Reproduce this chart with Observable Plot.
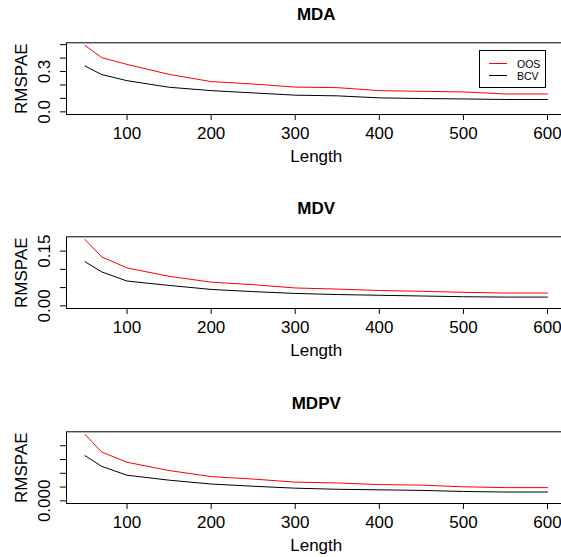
<!DOCTYPE html>
<html>
<head>
<meta charset="utf-8">
<script src="https://cdn.jsdelivr.net/npm/d3@7"></script>
<script src="https://cdn.jsdelivr.net/npm/@observablehq/plot@0.6"></script>
<style>
  html, body { margin: 0; padding: 0; background: #fff; overflow: hidden; }
  #root { position: relative; width: 561px; height: 557px; overflow: hidden; font-family: "Liberation Sans", Arial, Helvetica, sans-serif; }
  .panel { position: absolute; left: 0; width: 600px; }
  .panel svg { max-width: none !important; width: 600px !important; height: 175px !important; }
  .legend { position: absolute; border: 1px solid #000; background: #fff; font-size: 10.5px; color: #000; box-sizing: border-box; }
  .legend .sw { position: absolute; height: 0; border-top: 1px solid; width: 18px; }
  .legend .lb { position: absolute; line-height: 12px; }
</style>
</head>
<body>
<div id="root"></div>
<script>
// ---- data ----
const lengths = [50, 70, 100, 150, 200, 250, 300, 350, 400, 450, 500, 550, 600];
const xTicks = [100, 200, 300, 400, 500, 600];
const seriesNames = ["OOS", "BCV"];
const panelTitles = ["MDA", "MDV", "MDPV"];

const mdaOOS  = [0.494, 0.403, 0.353, 0.279, 0.225, 0.207, 0.184, 0.180, 0.158, 0.153, 0.148, 0.133, 0.133];
const mdaBCV  = [0.341, 0.277, 0.232, 0.183, 0.158, 0.141, 0.124, 0.119, 0.104, 0.099, 0.096, 0.092, 0.092];
const mdvOOS  = [0.182, 0.134, 0.104, 0.081, 0.065, 0.058, 0.049, 0.046, 0.042, 0.040, 0.037, 0.035, 0.035];
const mdvBCV  = [0.121, 0.093, 0.068, 0.056, 0.045, 0.039, 0.034, 0.031, 0.029, 0.027, 0.025, 0.024, 0.024];
const mdpvOOS = [0.0241, 0.0177, 0.0140, 0.0110, 0.0088, 0.0079, 0.0068, 0.0065, 0.0059, 0.0057, 0.0051, 0.0048, 0.0048];
const mdpvBCV = [0.0164, 0.0125, 0.0093, 0.0075, 0.0061, 0.0053, 0.0046, 0.0042, 0.0040, 0.0038, 0.0034, 0.0032, 0.0032];

const yTicksMDA  = [0, 0.1, 0.2, 0.3, 0.4, 0.5];
const yLabelsMDA = [0, 0.3];
const yTicksMDV  = [0, 0.05, 0.10, 0.15];
const yLabelsMDV = [0, 0.15];
const yTicksMDPV  = [0, 0.005, 0.010, 0.015, 0.020];
const yLabelsMDPV = [0];

const xLabel = "Length";
const yLabel = "RMSPAE";

// ---- drawing ----
const FONT = "Liberation Sans, Arial, Helvetica, sans-serif";
const root = document.getElementById("root");

function rpad(lo, hi) { const r = hi - lo; return [lo - 0.04 * r, hi + 0.04 * r]; }

function panel(title, oos, bcv, yTicks, yLabels, digits, top) {
  const oosRows = lengths.map((x, i) => ({x, v: oos[i]}));
  const bcvRows = lengths.map((x, i) => ({x, v: bcv[i]}));
  const ymax = d3.max([...oos, ...bcv]);
  const H = 175;
  const chart = Plot.plot({
    width: 600,
    height: H,
    marginLeft: 66,
    marginRight: 34.5,
    marginTop: 42.3,
    marginBottom: H - 114,
    style: {fontFamily: FONT, fontSize: "17px", color: "#000", background: "transparent", overflow: "visible", maxWidth: "none"},
    x: {domain: rpad(d3.min(lengths), d3.max(lengths))},
    y: {domain: rpad(0, ymax)},
    marks: [
      Plot.line(oosRows, {x: "x", y: "v", stroke: "#ff0000", strokeWidth: 1}),
      Plot.line(bcvRows, {x: "x", y: "v", stroke: "#000000", strokeWidth: 1}),
      Plot.frame({stroke: "#000", strokeWidth: 1}),
      Plot.axisX(xTicks, {tickSize: 6, tickPadding: 6, fontSize: 17, label: null, tickFormat: d => String(d)}),
      Plot.axisY(yTicks, {tickSize: 6, tickFormat: () => "", label: null}),
      Plot.text(yLabels, {y: d => d, frameAnchor: "left", dx: -16.7, rotate: -90,
        textAnchor: "middle", lineAnchor: "bottom", fontSize: 17, text: d => d.toFixed(digits)}),
      Plot.text([title], {frameAnchor: "top", dy: -23, textAnchor: "middle", lineAnchor: "bottom",
        fontWeight: "bold", fontSize: 17}),
      Plot.text([xLabel], {frameAnchor: "bottom", dy: 47.7, textAnchor: "middle", lineAnchor: "bottom", fontSize: 17}),
      Plot.text([yLabel], {frameAnchor: "left", dx: -40, rotate: -90, textAnchor: "middle", lineAnchor: "bottom", fontSize: 17})
    ]
  });
  const div = document.createElement("div");
  div.className = "panel";
  div.style.top = top + "px";
  div.appendChild(chart);
  root.appendChild(div);
}

panel(panelTitles[0], mdaOOS, mdaBCV, yTicksMDA, yLabelsMDA, 1, 0);
panel(panelTitles[1], mdvOOS, mdvBCV, yTicksMDV, yLabelsMDV, 2, 194.4);
panel(panelTitles[2], mdpvOOS, mdpvBCV, yTicksMDPV, yLabelsMDPV, 3, 389);

// legend (top panel)
const lg = document.createElement("div");
lg.className = "legend";
lg.style.left = "479px"; lg.style.top = "50px"; lg.style.width = "67px"; lg.style.height = "38px";
const legendColors = ["#ff0000", "#000000"];
seriesNames.forEach((name, i) => {
  const sw = document.createElement("div");
  sw.className = "sw";
  sw.style.borderTopColor = legendColors[i];
  sw.style.left = "9px";
  sw.style.top = (12 + i * 12.3) + "px";
  lg.appendChild(sw);
  const lb = document.createElement("div");
  lb.className = "lb";
  lb.textContent = name;
  lb.style.left = "37px";
  lb.style.top = (6.5 + i * 12.3) + "px";
  lg.appendChild(lb);
});
root.appendChild(lg);
</script>
</body>
</html>
